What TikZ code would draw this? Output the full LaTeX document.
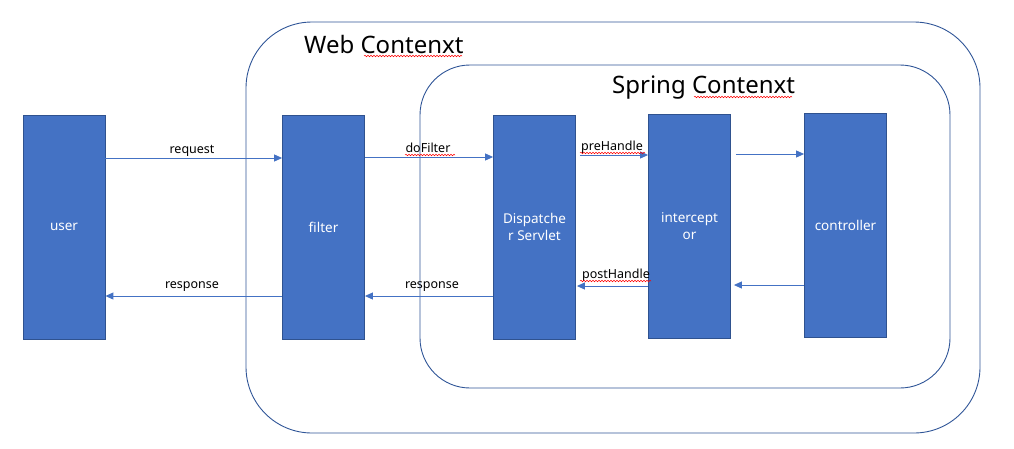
\documentclass[tikz,border=0pt]{standalone}
\usepackage{fontspec}
\setmainfont{Noto Sans}
\usetikzlibrary{arrows.meta,decorations.pathmorphing}
\definecolor{boxfill}{HTML}{4472C4}
\definecolor{boxline}{HTML}{2F528F}
\definecolor{ctxline}{HTML}{2F5597}
\begin{document}
\begin{tikzpicture}[x=1pt,y=-1pt,
  block/.style={draw=boxline,line width=0.8pt,fill=boxfill,minimum width=82pt,minimum height=224pt,inner sep=0pt,
    text=white,font=\fontsize{13.5}{17}\selectfont,align=center},
  flow/.style={draw=boxfill,line width=0.9pt,-{Triangle[length=8pt,width=7pt]}},
  lbl/.style={font=\fontsize{12.5}{15}\selectfont,anchor=base,inner sep=0pt},
  ctx/.style={draw=ctxline,line width=0.9pt},
  squig/.style={draw=red,line width=0.5pt,decorate,decoration={snake,segment length=3pt,amplitude=0.8pt}}]
\useasboundingbox (0,0) rectangle (1014,448);
% containers
\draw[ctx,rounded corners=66pt] (246,22) rectangle (980,433);
\draw[ctx,rounded corners=50pt] (420,65) rectangle (950,388);
\node[anchor=base west,inner sep=0pt,font=\fontsize{24}{28}\selectfont] (web) at (304,53) {Web Contenxt};
\node[anchor=base west,inner sep=0pt,font=\fontsize{24}{28}\selectfont] (spring) at (612,93) {Spring Contenxt};
% blocks
\node[block] (user) at (64,227) {user};
\node[block] (filter) at (323.5,227) {filter};
\node[block] (disp) at (534.5,227) {Dispatche\\r Servlet};
\node[block] (inter) at (689.5,226) {intercept\\or};
\node[block] (ctrl) at (845.5,225) {controller};
% arrows
\draw[flow] (user.east |- 0,158) -- (filter.west |- 0,158);
\draw[flow] (filter.west |- 0,296) -- (user.east |- 0,296);
\draw[flow] (filter.east |- 0,157) -- (disp.west |- 0,157);
\draw[flow] (disp.west |- 0,296) -- (filter.east |- 0,296);
\draw[flow] ([xshift=4pt]disp.east |- 0,155) -- (inter.west |- 0,155);
\draw[flow] (inter.west |- 0,286) -- ([xshift=1pt]disp.east |- 0,286);
\draw[flow] ([xshift=5pt]inter.east |- 0,154) -- (ctrl.west |- 0,154);
\draw[flow] (ctrl.west |- 0,285) -- ([xshift=3pt]inter.east |- 0,285);
% labels
\node[lbl] (lreq) at (192,153) {request};
\node[lbl] (lresp1) at (192,288) {response};
\node[lbl] (ldo) at (428,152) {doFilter};
\node[lbl] (lresp2) at (432,288) {response};
\node[lbl] (lpre) at (612,150) {preHandle};
\node[lbl] (lpost) at (616,278) {postHandle};
% spell-check marks
\draw[squig] (364,56) -- (462,56);
\draw[squig] (694,97) -- (792,97);
\draw[squig] (405,155) -- (455,155);
\draw[squig] (580,153) -- (645,153);
\draw[squig] (580,281) -- (651,281);
\end{tikzpicture}
\end{document}
